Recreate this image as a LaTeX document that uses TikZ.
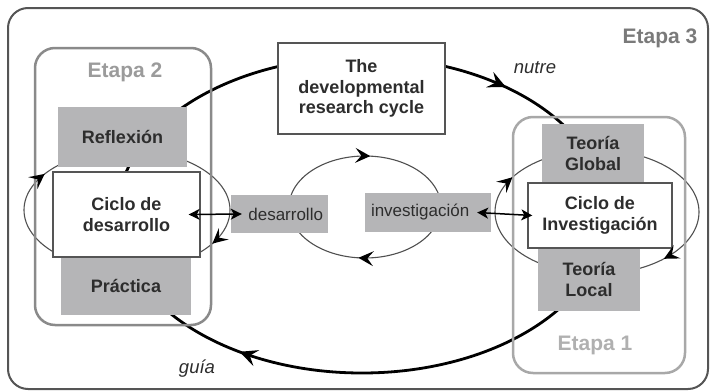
\documentclass[tikz,border=0pt]{standalone}
\usepackage{fontspec}
\setmainfont{Liberation Sans}
\usetikzlibrary{arrows.meta}
\definecolor{boxgray}{RGB}{181,181,183}
\definecolor{txt}{RGB}{45,45,45}
\definecolor{framegray}{RGB}{85,85,85}
\definecolor{etwo}{RGB}{138,138,138}
\definecolor{eone}{RGB}{168,168,168}
\definecolor{thinline}{RGB}{80,80,80}
% arrowhead: x, y (tip), rotation, length, half width, inset
\newcommand{\arrhead}[6]{%
  \fill[black, shift={(#1,#2)}, rotate=#3] (0,0) -- (-#4,#5) -- (-#4+#6,0) -- (-#4,-#5) -- cycle;}
\begin{document}
\begin{tikzpicture}[x=1pt,y=-1pt,
  boxfont/.style={font=\bfseries\fontsize{18}{20.5}\selectfont},
  gbox/.style={boxfont, fill=boxgray, draw=none, inner sep=0pt, align=center, text=txt},
  wbox/.style={boxfont, fill=white, draw=framegray, line width=1.4pt, inner sep=0pt, align=center, text=txt},
  midbox/.style={font=\fontsize{17}{19}\selectfont, fill=boxgray, draw=none, inner ysep=0pt, text=txt},
  etapa/.style={font=\bfseries\fontsize{21}{24}\selectfont, inner sep=0pt},
  itlabel/.style={font=\itshape\fontsize{18.5}{21}\selectfont, text=txt, inner sep=0pt},
  bigc/.style={line width=2.8pt, black},
  thinc/.style={line width=1.1pt, thinline},
  dbl/.style={line width=1.5pt, black, {Stealth[length=11pt,width=11pt,inset=3pt]}-{Stealth[length=11pt,width=11pt,inset=3pt]}}
]
\useasboundingbox (0,0) rectangle (713,391);

% outer frame
\draw[framegray, line width=2pt, rounded corners=20pt] (8,8) rectangle (708,389);

% big cycle
\draw[bigc] (362,215) ellipse [x radius=245, y radius=158];

% thin cycles
\draw[thinc] (127,210) ellipse [x radius=103, y radius=60];
\draw[thinc] (597,212) ellipse [x radius=102, y radius=62];
\draw[thinc] (365,207) ellipse [x radius=76, y radius=51];

% boxes
\node[gbox, minimum width=129pt, minimum height=60pt] (refl) at (122.5,137) {Reflexión};
\node[gbox, minimum width=130pt, minimum height=58pt] (prac) at (126,286) {Práctica};
\node[wbox, minimum width=147pt, minimum height=85pt] (cdes) at (126.5,214.5) {Ciclo de\\desarrollo};
\node[gbox, minimum width=102pt, minimum height=59pt] (tglob) at (593,153.5) {Teoría\\Global};
\node[gbox, minimum width=102pt, minimum height=63pt] (tloc) at (589,279.5) {Teoría\\Local};
\node[wbox, minimum width=144pt, minimum height=65pt] (cinv) at (600,215.5) {Ciclo de\\Investigación};
\node[wbox, minimum width=167pt, minimum height=91pt] (drc) at (361.5,88.5) {The\\developmental\\research cycle};
\node[midbox, inner xsep=5pt, text width=87pt, align=right, minimum height=38pt] (desar) at (279.5,214) {desarrollo};
\node[midbox, inner xsep=6pt, text width=114pt, align=left, minimum height=39pt] (inv) at (428,212.5) {investigación};

% etapa frames
\draw[etwo, line width=2.5pt, rounded corners=20pt] (35,48) rectangle (211,325);
\draw[eone, line width=2.5pt, rounded corners=20pt] (513,117) rectangle (685,373);

% arrowheads on the big cycle
\arrhead{506}{87.2}{-25.1}{18}{8.5}{7}
\arrhead{239.5}{351.8}{159.6}{18}{8.5}{7}

% arrowheads on the thin cycles
\arrhead{44.7}{173.9}{37.7}{15}{7.5}{6}
\arrhead{212.4}{243.6}{-139.2}{15}{7.5}{6}
\arrhead{512.4}{177.3}{42}{15}{7.5}{6}
\arrhead{663.9}{258.8}{-152.1}{15}{7.5}{6}
\arrhead{370.3}{156.1}{-2.7}{15}{7.5}{6}
\arrhead{358.4}{257.8}{176.6}{15}{7.5}{6}

% double arrows
\draw[dbl] ([xshift=-12pt]cdes.east) -- ([xshift=11pt]desar.west);
\draw[dbl] ([xshift=-14pt]inv.east) -- ([xshift=5pt]cinv.west);

% labels
\node[etapa, text={rgb,255:red,122;green,122;blue,122}] (e3) at (660,38) {Etapa 3};
\node[etapa, text={rgb,255:red,155;green,155;blue,155}] (e2) at (125,72) {Etapa 2};
\node[etapa, text={rgb,255:red,176;green,176;blue,176}] (e1) at (595,345) {Etapa 1};
\node[itlabel] (nutre) at (535,68) {nutre};
\node[itlabel] (guia) at (197,369) {guía};
\end{tikzpicture}
\end{document}
